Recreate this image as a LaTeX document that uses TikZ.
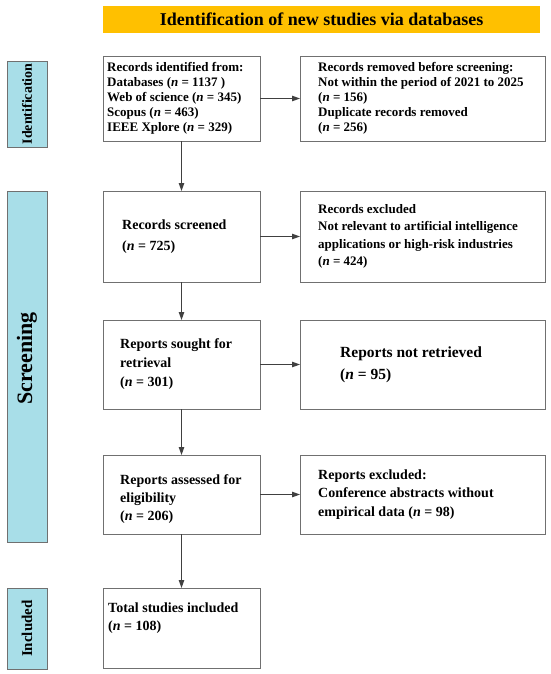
\documentclass[tikz,border=0pt]{standalone}
\usepackage{fontspec}
\setmainfont{Liberation Serif}
\usetikzlibrary{positioning,arrows.meta}
\definecolor{barorange}{HTML}{FFC000}
\definecolor{sideblue}{HTML}{A8DEE8}
\definecolor{boxgray}{HTML}{707070}

\begin{document}
\begin{tikzpicture}[box/.style = {draw=boxgray, line width=0.9pt, inner sep=0pt, outer sep=0pt},
  lbox/.style = {box, minimum width=157pt},
  rbox/.style = {box, minimum width=245pt},
  txt/.style = {inner sep=0pt, align=left, font=\bfseries\fontsize{14}{18}\selectfont},
  side/.style = {draw=boxgray, fill=sideblue, line width=0.9pt, minimum width=40pt, inner sep=0pt, outer sep=0pt},
  sidetxt/.style = {inner sep=0pt, font=\bfseries\fontsize{14}{16}\selectfont},
  arr/.style = {draw=black!75, line width=0.9pt, -{Triangle[length=8pt,width=5.5pt]}},
  node distance=40pt]
\useasboundingbox (0,0) rectangle (550pt,-674pt);
\node[fill=barorange, minimum width=437pt, minimum height=27pt, anchor=north west, font=\bfseries\fontsize{18}{20}\selectfont] (title) at (103pt,-6pt) {Identification of new studies via databases};
% boxes
\node[lbox, minimum height=85pt, anchor=north west] (id) at (103pt,-56pt) {};
\node[rbox, minimum height=85pt, right=of id] (rm) {};
\node[lbox, minimum height=91pt, below=50pt of id] (scr) {};
\node[rbox, minimum height=91pt, right=of scr] (exc) {};
\node[lbox, minimum height=89pt, below=38pt of scr] (sought) {};
\node[rbox, minimum height=89pt, right=of sought] (notret) {};
\node[lbox, minimum height=79pt, below=46pt of sought] (elig) {};
\node[rbox, minimum height=79pt, right=of elig] (excl) {};
\node[lbox, minimum height=80pt, below=54pt of elig] (incl) {};
% texts
\node[txt, font=\bfseries\fontsize{13}{15}\selectfont, right=4pt of id.west] (idtxt) {Records identified from:\\ Databases (\textit{n} = 1137 )\\ Web of science (\textit{n} = 345)\\ Scopus (\textit{n} = 463)\\ IEEE Xplore (\textit{n} = 329)};
\node[txt, font=\bfseries\fontsize{13}{15}\selectfont, right=18pt of rm.west] (rmtxt) {Records removed before screening:\\ Not within the period of 2021 to 2025\\ (\textit{n} = 156)\\ Duplicate records removed\\ (\textit{n} = 256)};
\node[txt, font=\bfseries\fontsize{14}{21}\selectfont, right=19pt of scr.west] (scrtxt) {Records screened\\ (\textit{n} = 725)};
\node[txt, font=\bfseries\fontsize{13}{17.5}\selectfont, right=18pt of exc.west] (exctxt) {Records excluded\\ Not relevant to artificial intelligence\\ applications or high-risk industries\\ (\textit{n} = 424)};
\node[txt, font=\bfseries\fontsize{14}{19}\selectfont, right=17pt of sought.west] (soughttxt) {Reports sought for\\ retrieval\\ (\textit{n} = 301)};
\node[txt, font=\bfseries\fontsize{15.5}{22}\selectfont, right=40pt of notret.west] (notrettxt) {Reports not retrieved\\ (\textit{n} = 95)};
\node[txt, right=17pt of elig.west, yshift=-5pt] (eligtxt) {Reports assessed for\\ eligibility\\ (\textit{n} = 206)};
\node[txt, font=\bfseries\fontsize{14}{18.5}\selectfont, right=18pt of excl.west] (excltxt) {Reports excluded:\\ Conference abstracts without\\ empirical data (\textit{n} = 98)};
\node[txt, right=5pt of incl.west, yshift=10pt] (incltxt) {Total studies included\\ (\textit{n} = 108)};
% side bars
\node[side, minimum height=86pt, anchor=north west] (sideid) at (7pt,-61pt) {};
\node[side, minimum height=351pt, anchor=north west] (sidescr) at (7pt,-191pt) {};
\node[side, minimum height=81pt, anchor=north west] (sideincl) at (7pt,-588pt) {};
\node[sidetxt] (sideidtxt) at (sideid.center) {\rotatebox{90}{Identification}};
\node[sidetxt, font=\bfseries\fontsize{22}{24}\selectfont, yshift=8pt] (sidescrtxt) at (sidescr.center) {\rotatebox{90}{Screening}};
\node[sidetxt, font=\bfseries\fontsize{15}{17}\selectfont] (sideincltxt) at (sideincl.center) {\rotatebox{90}{Included}};
% arrows
\draw[arr] (id) -- (rm);
\draw[arr] (id) -- (scr);
\draw[arr] (scr) -- (exc);
\draw[arr] (scr) -- (sought);
\draw[arr] (sought) -- (notret);
\draw[arr] (sought) -- (elig);
\draw[arr] (elig) -- (excl);
\draw[arr] (elig) -- (incl);
\end{tikzpicture}
\end{document}
